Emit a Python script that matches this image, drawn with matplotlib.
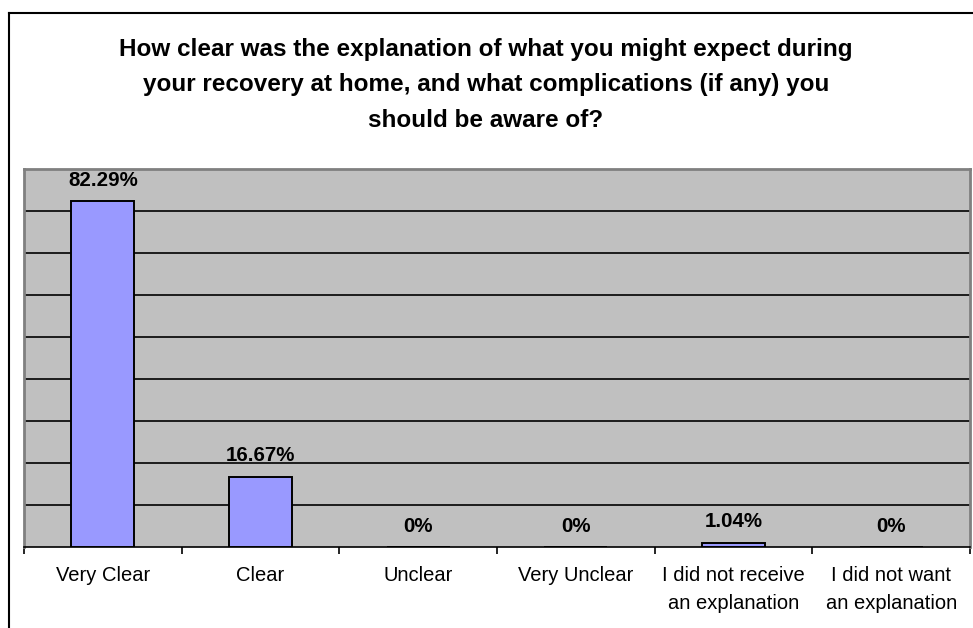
import matplotlib
matplotlib.use("Agg")
import matplotlib.pyplot as plt
from matplotlib.lines import Line2D

# survey answers and their shares (%)
categories = ["Very Clear", "Clear", "Unclear", "Very Unclear",
              "I did not receive\nan explanation", "I did not want\nan explanation"]
values = [82.29, 16.67, 0, 0, 1.04, 0]
labels = ["82.29%", "16.67%", "0%", "0%", "1.04%", "0%"]

title = ("How clear was the explanation of what you might expect during\n"
         "your recovery at home, and what complications (if any) you\n"
         "should be aware of?")

plt.rcParams['font.family'] = ['Liberation Sans', 'DejaVu Sans']

W, H = 973, 628
fig = plt.figure(figsize=(W / 100, H / 100), dpi=100)
ax = fig.add_axes([24 / W, (H - 547) / H, 946 / W, 378 / H])

ax.set_facecolor("#C0C0C0")
x = range(len(categories))
ax.bar(x, values, width=0.4, color="#9999FF", edgecolor="black", linewidth=1.4, zorder=3)

ax.set_xlim(-0.5, len(categories) - 0.5)
ax.set_ylim(0, 90)
for y in range(10, 90, 10):
    ax.axhline(y, color="black", linewidth=1.2, zorder=1)

for i, (v, lab) in enumerate(zip(values, labels)):
    ax.annotate(lab, (i, v), xytext=(0, 21), textcoords="offset pixels",
                ha="center", va="center", fontsize=14.8, fontweight="bold")

ax.set_yticks([])
ax.set_xticks(list(x))
ax.set_xticklabels(categories, fontsize=14.5, linespacing=1.6)
ax.tick_params(axis="x", which="major", length=0, pad=14)
ax.set_xticks([i - 0.5 for i in range(len(categories) + 1)], minor=True)
ax.tick_params(axis="x", which="minor", length=5, width=1.2, color="black", direction="out")

for side in ["left", "top", "right"]:
    ax.spines[side].set_color("#808080")
    ax.spines[side].set_linewidth(2)
ax.spines["bottom"].set_color("black")
ax.spines["bottom"].set_linewidth(1.2)

fig.text(486 / W, 1 - 85 / H, title, ha="center", va="center",
         fontsize=17.5, fontweight="bold", linespacing=1.68)

# outer chart border
fig.add_artist(Line2D([9 / W, 9 / W], [0, 1 - 13 / H], color="black", linewidth=1.5,
                      transform=fig.transFigure))
fig.add_artist(Line2D([9 / W, 1], [1 - 13 / H, 1 - 13 / H], color="black", linewidth=1.5,
                      transform=fig.transFigure))

fig.savefig("out.png", dpi=100)
